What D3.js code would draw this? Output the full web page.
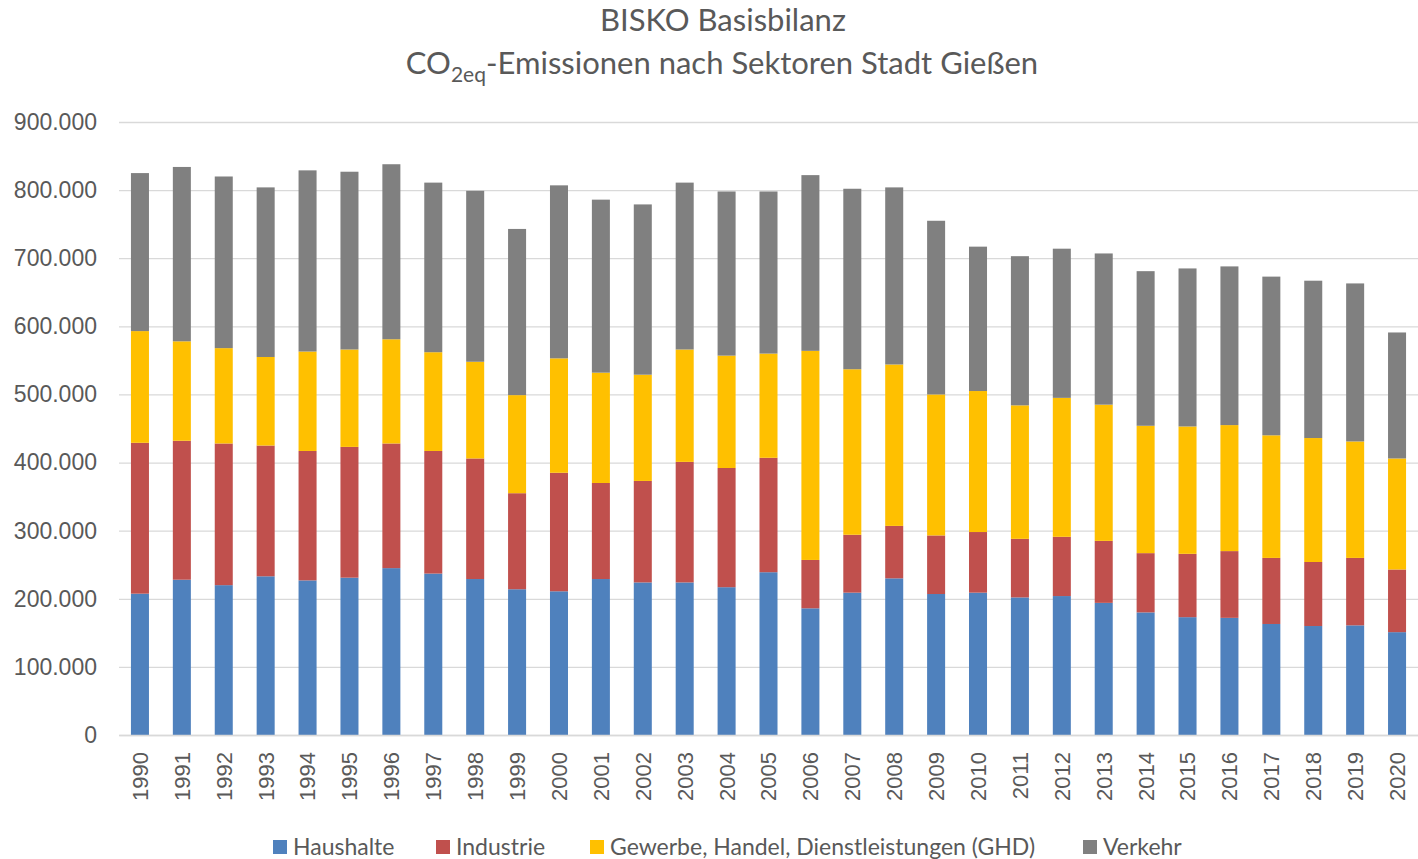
<!DOCTYPE html>
<html>
<head>
<meta charset="utf-8">
<script src="https://cdn.jsdelivr.net/npm/d3@7"></script>
<style>
  body { margin: 0; background: #fff; }
  svg { display: block; }
</style>
</head>
<body>
<div id="target"></div>
<script>
const years = ["1990","1991","1992","1993","1994","1995","1996","1997","1998","1999",
  "2000","2001","2002","2003","2004","2005","2006","2007","2008","2009",
  "2010","2011","2012","2013","2014","2015","2016","2017","2018","2019","2020"];

const seriesNames = ["Haushalte", "Industrie", "Gewerbe, Handel, Dienstleistungen (GHD)", "Verkehr"];

// Werte in t CO2eq
const haushalte = [207500, 228000, 220000, 233000, 227000, 231000, 245000, 237000, 229000, 214000,
  211000, 229000, 224000, 224000, 217000, 239000, 186000, 209000, 230000, 207000,
  209000, 202000, 204000, 194000, 180000, 173000, 172000, 163000, 160000, 161000, 151000];
const industrie = [221500, 204000, 208000, 192000, 190000, 192000, 183000, 180000, 177000, 141000,
  174000, 141000, 149000, 177000, 175000, 168000, 71000, 85000, 77000, 86000,
  89000, 86000, 87000, 91000, 87000, 93000, 98000, 97000, 94000, 99000, 92000];
const ghd = [164000, 146000, 140000, 130000, 146000, 143000, 153000, 145000, 142000, 144000,
  168000, 162000, 156000, 165000, 165000, 153000, 307000, 243000, 237000, 207000,
  207000, 196000, 204000, 200000, 187000, 187000, 185000, 180000, 182000, 171000, 163000];
const verkehr = [232000, 256000, 252000, 249000, 266000, 261000, 257000, 249000, 251000, 244000,
  254000, 254000, 250000, 245000, 241000, 238000, 258000, 265000, 260000, 255000,
  212000, 219000, 219000, 222000, 227000, 232000, 233000, 233000, 231000, 232000, 185000];

const yTicks = [0, 100000, 200000, 300000, 400000, 500000, 600000, 700000, 800000, 900000];

const colors = ["#4f81bd", "#c0504d", "#ffc000", "#808080"];

const width = 1418, height = 859;
const margin = { left: 119, right: 0, top: 122, bottom: 124 };

const rows = years.map((y, i) => ({
  year: y,
  s0: haushalte[i], s1: industrie[i], s2: ghd[i], s3: verkehr[i]
}));

const stack = d3.stack().keys(["s0", "s1", "s2", "s3"]);
const stacked = stack(rows);

const x = d3.scaleBand()
  .domain(years)
  .range([margin.left, width - margin.right])
  .paddingInner(0.57)
  .paddingOuter(0.285);

const y = d3.scaleLinear()
  .domain([0, 900000])
  .range([height - margin.bottom, margin.top]);

const de = d3.formatLocale({ decimal: ",", thousands: ".", grouping: [3], currency: ["", " €"] });
const fmt = de.format(",.0f");

const svg = d3.select("#target")
  .append("svg")
  .attr("width", width)
  .attr("height", height);

// Gitterlinien
svg.append("g")
  .attr("class", "grid")
  .attr("transform", `translate(${margin.left},0)`)
  .call(d3.axisLeft(y).tickValues(yTicks).tickSize(-(width - margin.left - margin.right)).tickFormat(""))
  .call(g => g.select(".domain").remove())
  .call(g => g.selectAll("line").attr("stroke", "#d9d9d9").attr("stroke-width", 1.3));

// Balken
svg.append("g")
  .selectAll("g")
  .data(stacked)
  .join("g")
  .attr("fill", (d, i) => colors[i])
  .selectAll("rect")
  .data(d => d)
  .join("rect")
  .attr("x", d => x(d.data.year))
  .attr("y", d => y(d[1]))
  .attr("width", x.bandwidth())
  .attr("height", d => y(d[0]) - y(d[1]));

// y-Achse
svg.append("g")
  .attr("transform", `translate(${margin.left},0)`)
  .call(d3.axisLeft(y).tickValues(yTicks).tickSize(0).tickPadding(22).tickFormat(fmt))
  .call(g => g.select(".domain").remove())
  .call(g => g.selectAll("text")
    .attr("fill", "#595959")
    .style("font-family", "'Liberation Sans', Arial, sans-serif")
    .style("font-size", "23px"));

// x-Achse
svg.append("g")
  .attr("transform", `translate(0,${height - margin.bottom})`)
  .call(d3.axisBottom(x).tickSize(0).tickPadding(0))
  .call(g => g.select(".domain").attr("stroke", "#d9d9d9").attr("stroke-width", 1.3))
  .call(g => g.selectAll("text")
    .attr("fill", "#595959")
    .style("font-family", "'Liberation Sans', Arial, sans-serif")
    .style("font-size", "22px")
    .attr("text-anchor", "end")
    .attr("dy", "0.36em")
    .attr("transform", "translate(0,17) rotate(-90)"));

// Titel
const titleFont = "Lato, 'Open Sans', sans-serif";
svg.append("text")
  .attr("x", 723)
  .attr("y", 31)
  .attr("text-anchor", "middle")
  .attr("fill", "#595959")
  .style("font-family", titleFont)
  .style("font-size", "31px")
  .text("BISKO Basisbilanz");

const t2 = svg.append("text")
  .attr("x", 722)
  .attr("y", 74)
  .attr("text-anchor", "middle")
  .attr("fill", "#595959")
  .style("font-family", titleFont)
  .style("font-size", "31px");
t2.append("tspan").text("CO");
t2.append("tspan").attr("dy", 8).style("font-size", "21px").text("2eq");
t2.append("tspan").attr("dy", -8).text("-Emissionen nach Sektoren Stadt Gießen");

// Legende
const legendX = [273, 436, 590, 1083];
const legend = svg.append("g")
  .selectAll("g")
  .data(seriesNames)
  .join("g")
  .attr("transform", (d, i) => `translate(${legendX[i]},840)`);

legend.append("rect")
  .attr("width", 14)
  .attr("height", 14)
  .attr("fill", (d, i) => colors[i]);

legend.append("text")
  .attr("x", 20)
  .attr("y", 15)
  .attr("fill", "#595959")
  .style("font-family", titleFont)
  .style("font-size", "23px")
  .text(d => d);
</script>
</body>
</html>
